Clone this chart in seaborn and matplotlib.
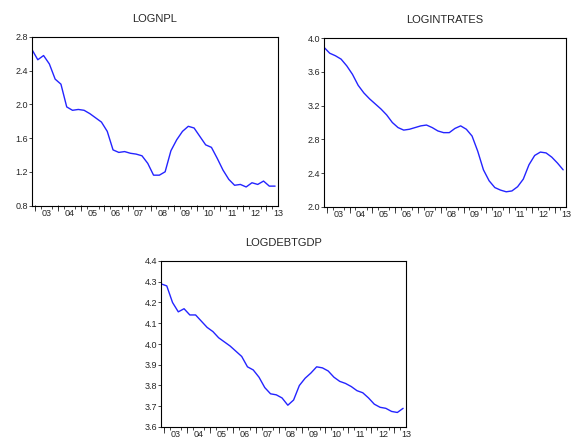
import numpy as np
import pandas as pd
import matplotlib
matplotlib.use("Agg")
from matplotlib import pyplot as plt
from matplotlib.ticker import FixedLocator, NullFormatter, FormatStrFormatter
import seaborn as sns

# quarterly observations 2002Q4 - 2013Q2
quarters = pd.period_range('2002Q4', '2013Q2', freq='Q')
year_labels = ['03', '04', '05', '06', '07', '08', '09', '10', '11', '12', '13']

lognpl = [2.65, 2.53, 2.58, 2.48, 2.30, 2.24, 1.97, 1.93, 1.94, 1.93, 1.89,
          1.84, 1.79, 1.68, 1.46, 1.43, 1.44, 1.42, 1.41, 1.39, 1.30, 1.16,
          1.16, 1.20, 1.45, 1.58, 1.68, 1.74, 1.72, 1.62, 1.52, 1.49, 1.36,
          1.22, 1.11, 1.04, 1.05, 1.02, 1.07, 1.05, 1.09, 1.03, 1.03]
logintrates = [3.89, 3.82, 3.79, 3.75, 3.67, 3.57, 3.44, 3.35, 3.28, 3.22, 3.16,
               3.09, 3.00, 2.94, 2.91, 2.92, 2.94, 2.96, 2.97, 2.94, 2.90, 2.88,
               2.88, 2.93, 2.96, 2.92, 2.84, 2.66, 2.44, 2.31, 2.23, 2.20, 2.18,
               2.19, 2.24, 2.33, 2.50, 2.61, 2.65, 2.64, 2.59, 2.52, 2.44]
logdebtgdp = [4.29, 4.28, 4.20, 4.155, 4.17, 4.14, 4.14, 4.11, 4.08, 4.06, 4.03,
              4.01, 3.99, 3.965, 3.94, 3.89, 3.875, 3.84, 3.79, 3.76, 3.755, 3.74,
              3.705, 3.73, 3.80, 3.835, 3.86, 3.89, 3.885, 3.87, 3.84, 3.82, 3.81,
              3.795, 3.775, 3.765, 3.74, 3.71, 3.695, 3.69, 3.675, 3.67, 3.69]

t = np.asarray(quarters.year + (quarters.quarter - 1) / 4 + 0.125, dtype=float)
df = pd.DataFrame({'t': t, 'LOGNPL': lognpl, 'LOGINTRATES': logintrates,
                   'LOGDEBTGDP': logdebtgdp})

sns.set_style('white')
plt.rcParams['font.family'] = ['Liberation Sans', 'DejaVu Sans']

W, H = 571, 442
fig = plt.figure(figsize=(W / 100, H / 100), dpi=100)


def box(l, t_, r, b):
    return [l / W, 1 - b / H, (r - l) / W, (b - t_) / H]


panels = [
    ('LOGNPL', box(32, 37, 278, 205.5), (0.8, 2.8), np.arange(0.8, 2.81, 0.4)),
    ('LOGINTRATES', box(324, 38, 566, 207), (2.0, 4.0), np.arange(2.0, 4.01, 0.4)),
    ('LOGDEBTGDP', box(161, 261, 406, 427), (3.6, 4.4), np.arange(3.6, 4.41, 0.1)),
]

for name, pos, ylim, yt in panels:
    ax = fig.add_axes(pos)
    sns.lineplot(x='t', y=name, data=df, ax=ax, color='#2424ff', linewidth=1.0)
    ax.set_xlim(t[0], t[-1])
    ax.set_ylim(*ylim)
    ax.set_xlabel('')
    ax.set_ylabel('')
    ax.set_title(name, fontsize=8, pad=11)
    ax.set_yticks(yt)
    ax.yaxis.set_major_formatter(FormatStrFormatter('%.1f'))
    ax.tick_params(axis='y', labelsize=6.5, length=2, width=0.6, direction='out', pad=1, left=True)
    # year labels in the middle of each year, quarter minor ticks
    ax.set_xticks(np.arange(2003.5, 2013.6, 1.0))
    ax.set_xticklabels(year_labels)
    ax.xaxis.set_minor_locator(FixedLocator(np.arange(2002.75, 2013.6, 0.25)))
    ax.tick_params(axis='x', which='major', labelsize=6.5, length=0, pad=2.5)
    ax.tick_params(axis='x', which='minor', length=2, width=0.6, direction='out', bottom=True)
    sec = ax.secondary_xaxis('bottom')
    sec.set_xticks(np.arange(2003, 2014, 1.0))
    sec.xaxis.set_major_formatter(NullFormatter())
    sec.tick_params(axis='x', length=4, width=0.6, direction='out')
    sec.spines['bottom'].set_visible(False)
    for s in ax.spines.values():
        s.set_visible(True)
        s.set_color('black')
        s.set_linewidth(0.8)

fig.savefig('out.png', dpi=100)
